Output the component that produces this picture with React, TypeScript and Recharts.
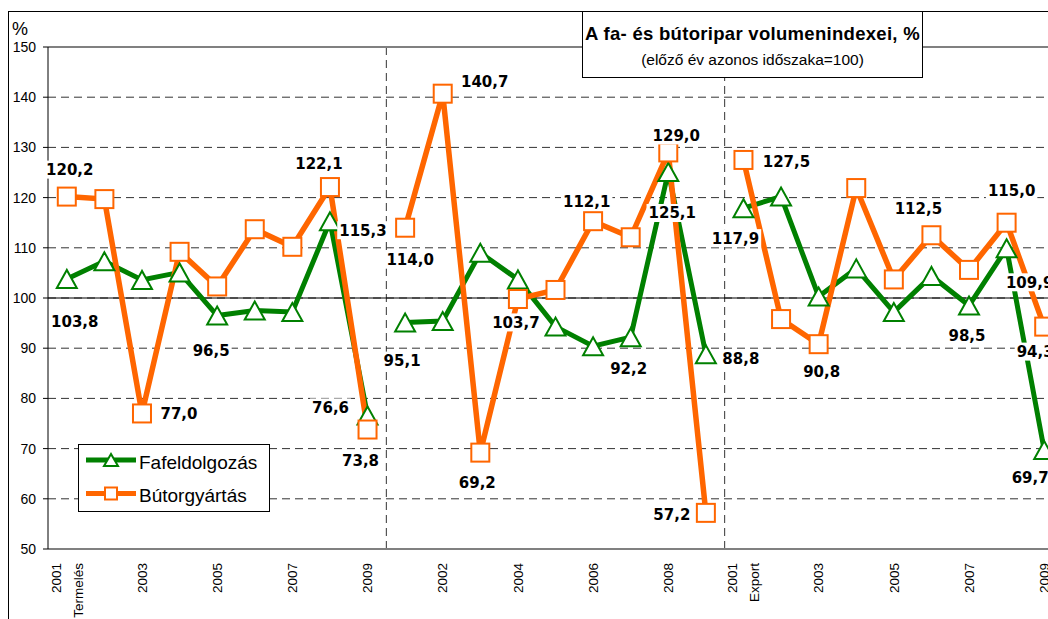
import React from 'react';
import {CartesianGrid, Legend, Line, LineChart, ReferenceLine, XAxis, YAxis} from 'recharts';

// years repeat in every block, the block name goes under the first year
const years = ['2001', '2002', '2003', '2004', '2005', '2006', '2007', '2008', '2009'];
const blocks = ['Termelés', 'Belföld', 'Export'];

// Fafeldolgozás, per block
const faTermeles = [103.8, 107.3, 103.6, 105.1, 96.5, 97.5, 97.2, 115.3, 76.6];
const faBelfold = [95.1, 95.4, 109.0, 103.7, 94.3, 90.4, 92.2, 125.1, 88.8];
const faExport = [117.9, 120.2, 100.3, 105.9, 97.2, 104.4, 98.5, 109.9, 69.7];

// Bútorgyártás, per block
const buTermeles = [120.2, 119.7, 77.0, 109.2, 102.3, 113.7, 110.2, 122.1, 73.8];
const buBelfold = [114.0, 140.7, 69.2, 99.8, 101.6, 115.3, 112.1, 129.0, 57.2];
const buExport = [127.5, 95.8, 90.8, 121.9, 103.7, 112.5, 105.6, 115.0, 94.3];

const yTicks = [50, 60, 70, 80, 90, 100, 110, 120, 130, 140, 150];

const GREEN = '#008000';
const ORANGE = '#FF6600';

const faSeries = [faTermeles, faBelfold, faExport];
const buSeries = [buTermeles, buBelfold, buExport];

const data = blocks.flatMap((block, g) =>
    years.map((year, k) => {
        const row: any = {cat: k === 0 ? `${year}\n${block}` : year};
        blocks.forEach((_, j) => {
            row['fa' + j] = j === g ? faSeries[g][k] : null;
            row['bu' + j] = j === g ? buSeries[g][k] : null;
        });
        return row;
    })
);

// where the value labels sit relative to their point (dx, dy)
const labelOffsets: Record<string, [number, number]> = {
    'fa0-0': [8, 43], 'fa0-4': [-6, 35], 'fa0-7': [33, 9], 'fa0-8': [-37, -8],
    'bu0-0': [3, -27], 'bu0-2': [37, 0], 'bu0-7': [-11, -23], 'bu0-8': [-7, 31],
    'fa1-0': [-3, 38], 'fa1-3': [-2, 43], 'fa1-6': [-2, 31], 'fa1-7': [4, 41], 'fa1-8': [35, 4],
    'bu1-0': [5, 32], 'bu1-1': [42, -12], 'bu1-2': [-3, 30], 'bu1-6': [-44, -36], 'bu1-7': [8, -17], 'bu1-8': [-34, 2],
    'fa2-0': [-8, 30], 'fa2-6': [-2, 30], 'fa2-7': [23, 34], 'fa2-8': [-14, 27],
    'bu2-0': [43, 2], 'bu2-2': [3, 27], 'bu2-5': [-13, -27], 'bu2-7': [5, -32], 'bu2-8': [-9, 25],
};

const fmt = (v: number) => v.toFixed(1).replace('.', ',');

const renderTriangle = (p: any) => {
    if (p.value == null || p.cy == null) return <g key={`t-${p.index}`}/>;
    const {cx, cy} = p;
    return (
        <polygon key={`t-${p.index}`} points={`${cx},${cy - 9} ${cx - 10},${cy + 9} ${cx + 10},${cy + 9}`}
                 fill="#fff" stroke={GREEN} strokeWidth={2}/>
    );
};

const renderSquare = (p: any) => {
    if (p.value == null || p.cy == null) return <g key={`s-${p.index}`}/>;
    return (
        <rect key={`s-${p.index}`} x={p.cx - 9} y={p.cy - 9} width={18} height={18}
              fill="#fff" stroke={ORANGE} strokeWidth={2}/>
    );
};

const makeLabel = (key: string) => (p: any) => {
    if (p.value == null || p.x == null) return null;
    const off = labelOffsets[`${key}-${p.index % years.length}`];
    if (!off) return null;
    const text = fmt(Number(p.value));
    const w = text.length * 10.44 - 4.74 + 4;
    const x = p.x + off[0];
    const y = p.y + off[1];
    return (
        <g key={`l-${key}-${p.index}`}>
            <rect x={x - w / 2} y={y - 9} width={w} height={18} fill="#fff"/>
            <text x={x} y={y} dy="0.36em" textAnchor="middle" fontFamily="DejaVu Sans" fontWeight="bold"
                  fontSize={15} fill="#000">{text}</text>
        </g>
    );
};

const XTick = (props: any) => {
    const {x, y, payload} = props;
    const lines = String(payload.value).split('\n');
    const shift = lines.length > 1 ? 11 : 0;
    return (
        <g transform={`translate(${x},${y + 14}) rotate(-90)`}>
            {lines.map((line, i) => (
                <text key={i} x={0} y={(i === 0 ? -shift : shift)} dy="0.35em" textAnchor="end"
                      fontFamily="Liberation Sans, Arial" fontSize={13.5} fill="#000">{line}</text>
            ))}
        </g>
    );
};

const renderLegend = () => (
    <div style={{width: 192, height: 68, border: '1px solid #000', background: '#fff', boxSizing: 'border-box'}}>
        <svg width={190} height={66}>
            <line x1={7} y1={15} x2={57} y2={15} stroke={GREEN} strokeWidth={5}/>
            <polygon points="32,9 25,21 39,21" fill="#fff" stroke={GREEN} strokeWidth={2}/>
            <text x={60} y={23.5} fontFamily="Liberation Sans, Arial" fontSize={19} fill="#000">Fafeldolgozás</text>
            <line x1={7} y1={48.5} x2={57} y2={48.5} stroke={ORANGE} strokeWidth={5}/>
            <rect x={26} y={42.5} width={12} height={12} fill="#fff" stroke={ORANGE} strokeWidth={2}/>
            <text x={60} y={57} fontFamily="Liberation Sans, Arial" fontSize={19} fill="#000">Bútorgyártás</text>
        </svg>
    </div>
);

export default function App() {
    const W = 1100;
    const H = 619;
    const left = 48;
    const right = 37;
    const half = (W - left - right) / data.length / 2;
    return (
        <div style={{position: 'fixed', left: 0, top: 0, width: 1048, height: 619, overflow: 'hidden', background: '#fff'}}>
            <LineChart width={W} height={H} data={data} margin={{top: 47, right, bottom: 0, left: 0}}>
                <CartesianGrid stroke="#333" strokeDasharray="8 5"
                               verticalCoordinatesGenerator={({offset}: any) =>
                                   [1, 2].map(g => offset.left + offset.width * g / blocks.length)}/>
                <XAxis dataKey="cat" padding={{left: half, right: half}} interval={1} height={70}
                       tickSize={0} tickMargin={0}
                       tick={<XTick/>} axisLine={{stroke: '#808080', strokeWidth: 2}} tickLine={false}/>
                <YAxis domain={[50, 150]} ticks={yTicks} width={left} tickSize={5} tickMargin={7}
                       axisLine={{stroke: '#000'}} tickLine={{stroke: '#000'}}
                       tick={{fill: '#000', fontSize: 14, fontFamily: 'Liberation Sans, Arial'}}/>
                <ReferenceLine y={100} stroke="#000" strokeWidth={1}/>
                <ReferenceLine y={150} stroke="#808080" strokeWidth={2}/>
                <Legend content={renderLegend} layout="vertical" align="center" verticalAlign="middle"
                        wrapperStyle={{left: 78, top: 444, width: 192, height: 68}}/>
                {[0, 1, 2].map(g => (
                    <Line key={'fa' + g} dataKey={'fa' + g} stroke={GREEN} strokeWidth={5}
                          dot={renderTriangle} activeDot={false} isAnimationActive={false} legendType="none"/>
                ))}
                {[0, 1, 2].map(g => (
                    <Line key={'bu' + g} dataKey={'bu' + g} stroke={ORANGE} strokeWidth={5.5}
                          dot={renderSquare} activeDot={false} isAnimationActive={false} legendType="none"/>
                ))}
                {['fa0', 'fa1', 'fa2', 'bu0', 'bu1', 'bu2'].map(key => (
                    <Line key={'lab' + key} dataKey={key} stroke="none" dot={false} activeDot={false}
                          label={makeLabel(key)} isAnimationActive={false} legendType="none"/>
                ))}
            </LineChart>
            <svg width={1048} height={619} style={{position: 'absolute', left: 0, top: 0, pointerEvents: 'none'}}>
                <rect x={8.5} y={11.5} width={1100} height={700} fill="none" stroke="#000"/>
                <text x={12} y={35} fontFamily="Liberation Sans, Arial" fontSize={18} fill="#000">%</text>
                <rect x={582.5} y={11.5} width={340} height={66} fill="#fff" stroke="#000"/>
                <text x={752.5} y={40} textAnchor="middle" fontFamily="Liberation Sans, Arial" fontWeight="bold"
                      fontSize={18.5} letterSpacing={0.3} fill="#000">A fa- és bútoripar volumenindexei, %</text>
                <text x={752.5} y={65} textAnchor="middle" fontFamily="Liberation Sans, Arial"
                      fontSize={15.5} fill="#000">(előző év azonos időszaka=100)</text>
            </svg>
        </div>
    );
}
